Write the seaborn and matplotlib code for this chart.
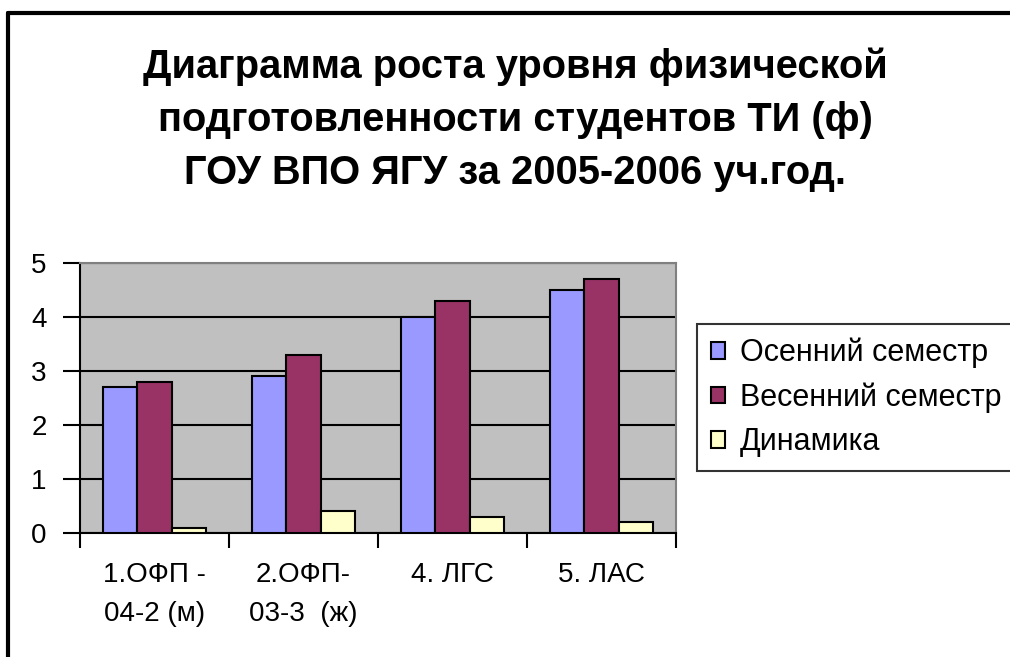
import matplotlib
matplotlib.use("Agg")
import matplotlib.pyplot as plt
import seaborn as sns
import pandas as pd
from matplotlib.lines import Line2D

categories = ["1.ОФП -\n04-2 (м)", "2.ОФП-\n03-3  (ж)", "4. ЛГС", "5. ЛАС"]
series_names = ["Осенний семестр", "Весенний семестр", "Динамика"]
autumn = [2.7, 2.9, 4.0, 4.5]
spring = [2.8, 3.3, 4.3, 4.7]
dynamics = [0.1, 0.4, 0.3, 0.2]
colors = ["#9999FF", "#993366", "#FFFFCC"]
title = "Диаграмма роста уровня физической\nподготовленности студентов ТИ (ф)\nГОУ ВПО ЯГУ за 2005-2006 уч.год."

rows = []
for name, vals in zip(series_names, [autumn, spring, dynamics]):
    for c, v in zip(categories, vals):
        rows.append({"cat": c, "val": v, "series": name})
df = pd.DataFrame(rows)

sns.set_style("white")
plt.rcParams['font.family'] = ['Liberation Sans', 'DejaVu Sans']
plt.rcParams['text.color'] = 'black'
plt.rcParams['xtick.color'] = 'black'
plt.rcParams['ytick.color'] = 'black'
plt.rcParams['axes.labelcolor'] = 'black'

fig = plt.figure(figsize=(10.1, 6.57), dpi=100)
ax = fig.add_axes([80/1010, 1-533/657, 596/1010, 270/657])
ax.set_facecolor("#C0C0C0")

sns.barplot(data=df, x="cat", y="val", hue="series", palette=colors,
            width=0.685, edgecolor="black", linewidth=1.5, ax=ax,
            saturation=1, legend=True, zorder=3)

ax.set_ylim(0, 5)
ax.set_xlim(-0.5, 3.5)
ax.set_yticks([0, 1, 2, 3, 4, 5])
ax.yaxis.grid(True, color="black", linewidth=1.5, zorder=1)
ax.set_axisbelow(True)
ax.set_xlabel("")
ax.set_ylabel("")
ax.tick_params(axis="y", direction="out", length=12, width=1.5, pad=12,
               labelsize=20, colors="black", left=True)
ax.set_xticks([-0.5, 0.5, 1.5, 2.5, 3.5], minor=True)
ax.tick_params(axis="x", which="minor", direction="out", length=11, width=1.5, bottom=True)
ax.tick_params(axis="x", which="major", length=0, pad=21, labelsize=20, colors="black")
for lab in ax.get_xticklabels():
    lab.set_multialignment("center")
    lab.set_linespacing(1.65)

for s in ["left", "bottom"]:
    ax.spines[s].set_color("black")
    ax.spines[s].set_linewidth(1.5)
for s in ["top", "right"]:
    ax.spines[s].set_color("#808080")
    ax.spines[s].set_linewidth(1.5)

handles, labels = ax.get_legend_handles_labels()
ax.get_legend().remove()
leg = fig.legend(handles, labels, loc="upper left", bbox_to_anchor=(697/1010, 1-324/657),
                 frameon=True, fancybox=False, fontsize=22, handlelength=0.45,
                 handleheight=0.45, handletextpad=0.5, borderpad=0.45,
                 labelspacing=0.47, borderaxespad=0)
leg.get_frame().set_edgecolor("black")
leg.get_frame().set_linewidth(1.5)
for t in leg.get_texts():
    t.set_color("black")

fig.text(0.51, 1-120/657, title, ha="center", va="center", fontsize=28.7,
         fontweight="bold", linespacing=1.5, multialignment="center", color="black")

fig.add_artist(Line2D([8/1010, 8/1010], [0, 1-13/657], color="black", linewidth=3,
                      transform=fig.transFigure))
fig.add_artist(Line2D([8/1010, 1], [1-13/657, 1-13/657], color="black", linewidth=3,
                      transform=fig.transFigure))

fig.savefig("out.png", dpi=100)
